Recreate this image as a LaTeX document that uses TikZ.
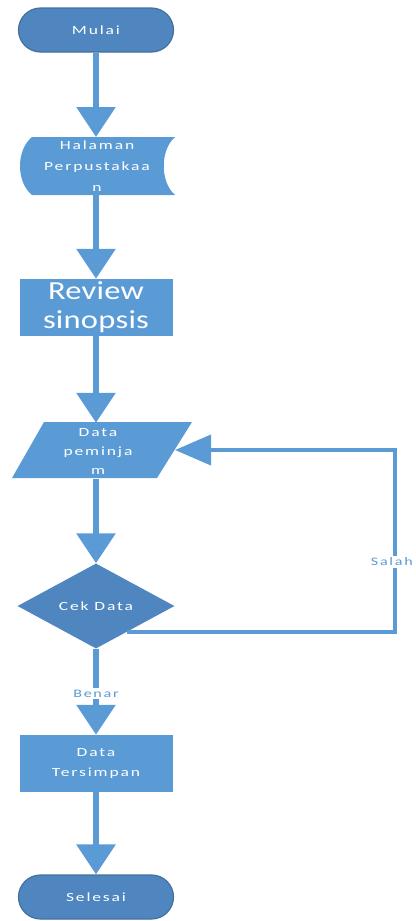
\documentclass[tikz,border=0pt]{standalone}
\usepackage{fontspec}
\setmainfont{Carlito}
\newfontfamily\spfont[FakeStretch=1.4,LetterSpace=15]{Carlito}
\newfontfamily\bigfont[FakeStretch=1.25,LetterSpace=1]{Carlito}
\usetikzlibrary{arrows.meta,shapes.geometric,calc}
\definecolor{lb}{HTML}{5B9BD5}
\definecolor{db}{HTML}{4F86C0}
\definecolor{bd}{HTML}{41719C}
\begin{document}
\begin{tikzpicture}[x=1pt,y=-1pt,
  txt/.style={text=white,align=center,font=\spfont\fontsize{12.5}{20}\selectfont,inner sep=0pt},
  term/.style={txt,fill=db,draw=bd,line width=1.2pt,rounded corners=22pt,minimum width=155pt,minimum height=44pt},
  proc/.style={txt,fill=lb,minimum width=153pt,minimum height=57pt},
  plain/.style={txt,minimum width=153pt,minimum height=57pt},
  dec/.style={txt,diamond,fill=db,minimum width=157pt,minimum height=85pt,aspect=1.85},
  arr/.style={draw=lb,line width=6pt,-{Triangle[length=30pt,width=38pt]}},
  farr/.style={draw=lb,line width=4pt,-{Triangle[length=36pt,width=30pt]}},
  lbl/.style={text=lb,fill=white,font=\spfont\fontsize{11.5}{13}\selectfont,inner sep=1.5pt}]
\useasboundingbox (0,0) rectangle (415,921);
% start
\node[term] (mulai) at (96,30) {Mulai};
% stored data shape
\fill[lb] (32,137) -- (175,137) .. controls (160,150) and (160,182) .. (175,195)
  -- (32,195) .. controls (16,182) and (16,150) .. (32,137) -- cycle;
\node[plain,font=\spfont\fontsize{12.5}{21}\selectfont] (hal) at (97,166) {Halaman\\Perpustakaa\\n};
% review
\node[proc,font=\bigfont\fontsize{26}{29}\selectfont] (rev) at (96,307.5) {Review\\sinopsis};
% data parallelogram
\fill[lb] (44,422) -- (192,422) -- (157,478) -- (12,478) -- cycle;
\node[plain,minimum height=56pt,font=\spfont\fontsize{12.5}{19}\selectfont] (dp) at (98,451) {Data\\peminja\\m};
% decision
\node[dec] (cek) at (96,606) {Cek Data};
% stored
\node[proc] (dt) at (96,763.5) {Data\\Tersimpan};
% end
\node[term] (sel) at (96,897) {Selesai};
% connectors
\draw[arr] (mulai.south) -- (96,137);
\draw[arr] (96,195) -- (rev.north);
\draw[arr] (rev.south) -- (rev.south |- dp.north);
\draw[arr] (rev.south |- dp.south) -- (cek.north);
\draw[arr] (cek.south) -- node[lbl,pos=0.52] (benar) {Benar} (dt.north);
\draw[arr] (dt.south) -- (sel.north);
\coordinate (fb) at ($(cek.south)!0.4!(cek.east)$);
\coordinate (corner) at (395,450);
\draw[farr] (fb) -| (corner) -- (175,450);
\node[lbl,anchor=east] (salah) at (414.5,562) {Salah};
\end{tikzpicture}
\end{document}
